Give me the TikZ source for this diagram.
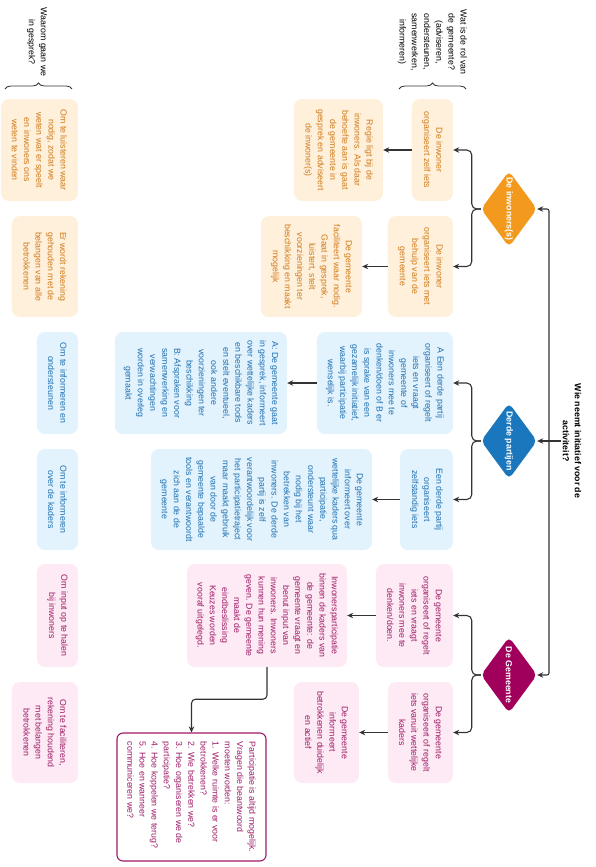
\documentclass[tikz,border=0pt]{standalone}
\usepackage{fontspec}
\setmainfont{Liberation Sans}
\usetikzlibrary{arrows.meta,shapes.geometric,decorations.pathreplacing}
\definecolor{ofill}{HTML}{FFF0DC}
\definecolor{otext}{HTML}{D07A17}
\definecolor{odia}{HTML}{F39A1E}
\definecolor{bfill}{HTML}{E2F3FE}
\definecolor{btext}{HTML}{1E6FB0}
\definecolor{bdia}{HTML}{1A77BD}
\definecolor{mfill}{HTML}{FDEAF5}
\definecolor{mtext}{HTML}{9E1B66}
\definecolor{mdia}{HTML}{A0005C}
\definecolor{lin}{HTML}{333333}
\newcommand{\fsz}{\fontsize{8.8}{12.2}\selectfont}
\begin{document}
\begin{tikzpicture}[
 box/.style={rounded corners=8pt, inner sep=2pt, align=center, font=\fsz},
 obox/.style={box, fill=ofill, text=otext},
 bbox/.style={box, fill=bfill, text=btext},
 mbox/.style={box, fill=mfill, text=mtext},
 dia/.style={diamond, rounded corners=5pt, inner sep=0pt, minimum width=76pt, minimum height=56pt},
 diatext/.style={text=white, font=\fsz\bfseries, inner sep=0pt},
 conn/.style={draw=lin, line width=1.1pt},
 arr/.style={conn, -{Stealth[length=6pt,width=5.5pt]}},
 hdr/.style={align=center, font=\fsz, text=black, inner sep=1pt},
 bracestyle/.style={draw=lin, line width=0.8pt, decorate, decoration={brace, amplitude=6pt}}
]
\begin{scope}[x=1pt, y=1pt, rotate=-90, transform shape]
\path[use as bounding box] (0,0) rectangle (867,-596);

% title and headers
\node[hdr, font=\fsz\bfseries] (title) at (441,-24) {Wie neemt initiatief voor de\\activiteit?};
\node[hdr] (h1) at (42,-163.5) {Wat is de rol van\\de gemeente?\\(adviseren,\\ondersteunen,\\samenwerken,\\informeren)};
\node[hdr] (h2) at (42,-559) {Waarom gaan we\\in gesprek?};
\draw[bracestyle] (89,-197) -- (89,-130);
\draw[bracestyle] (89,-591) -- (89,-524);

% diamonds
\node[dia, fill=odia] (d1) at (209,-87) {};
\node[diatext] at (d1) {De inwoners(s)};
\node[dia, fill=bdia] (d2) at (441,-87) {};
\node[diatext] at (d2) {Derde partijen};
\node[dia, fill=mdia] (d3) at (675,-87) {};
\node[diatext] at (d3) {De Gemeente};

% orange boxes
\node[obox, minimum width=102pt, minimum height=41pt] (b1) at (150,-163.5) {De inwoner\\organiseert zelf iets};
\node[obox, minimum width=102pt, minimum height=89pt] (b1p) at (150,-257.5) {Regie ligt bij de\\inwoners. Als daar\\behoefte aan is gaat\\de gemeente in\\gesprek en adviseert\\de inwoner(s)};
\node[obox, minimum width=102pt, minimum height=77pt] (b1q) at (150,-556.5) {Om te luisteren waar\\nodig, zodat we\\weten wat er speelt\\en inwoners ons\\weten te vinden};
\node[obox, minimum width=101pt, minimum height=65pt] (b2) at (266.5,-175.5) {De inwoner\\organiseert iets met\\behulp van de\\gemeente};
\node[obox, minimum width=101pt, minimum height=101pt] (b2p) at (266.5,-284.5) {De gemeente\\faciliteert waar nodig.\\Gaat in gesprek,\\luistert, stelt\\voorzieningen ter\\beschikking en maakt\\mogelijk};
\node[obox, minimum width=101pt, minimum height=66pt] (b2q) at (266.5,-551) {Er wordt rekening\\gehouden met de\\belangen van alle\\betrokkenen};

% blue boxes
\node[bbox, minimum width=102pt, minimum height=136pt] (c1) at (383,-211) {A Een derde partij\\organiseert of regelt\\iets en vraagt\\gemeente of\\inwoners mee te\\denken/doen of B er\\is sprake van een\\gezamelijk initiatief,\\waarbij participatie\\wenselijk is.};
\node[bbox, minimum width=102pt, minimum height=172pt] (c1p) at (383,-395) {A: De gemeente gaat\\in gesprek, informeert\\over wettelijke kaders\\en beschikbare tools\\en stelt eventueel,\\ook andere\\voorzieningen ter\\beschikking\\B: Afspraken voor\\samenwerking en\\verwachtingen\\worden in overleg\\gemaakt};
\node[bbox, minimum width=102pt, minimum height=41pt] (c1q) at (383,-538.5) {Om te informeren en\\ondersteunen};
\node[bbox, minimum width=101pt, minimum height=53pt] (c2) at (499.5,-169.5) {Een derde partij\\organiseert\\zelfstandig iets};
\node[bbox, minimum width=101pt, minimum height=221pt] (c2p) at (499.5,-334.5) {De gemeente\\informeert over\\wettelijke kaders qua\\participatie,\\ondersteunt waar\\nodig bij het\\betrekken van\\inwoners. De derde\\partij is zelf\\verantwoordelijk voor\\het participatietraject\\maar maakt gebruik\\van door de\\gemeente bepaalde\\tools en verantwoordt\\zich aan de de\\gemeente};
\node[bbox, minimum width=101pt, minimum height=41pt] (c2q) at (499.5,-538.5) {Om te informeren\\over de kaders};

% magenta boxes
\node[mbox, minimum width=103pt, minimum height=77pt] (m1) at (615.5,-181.5) {De gemeente\\organiseert of regelt\\iets en vraagt\\inwoners mee te\\denken/doen.};
\node[mbox, minimum width=103pt, minimum height=160pt] (m1p) at (615.5,-329) {Inwonersparticipatie\\binnen de kaders van\\de gemeente: de\\gemeente vraagt en\\benut input van\\inwoners. Inwoners\\kunnen hun mening\\geven. De gemeente\\maakt de\\eindbeslissing\\Keuzes worden\\vooraf uitgelegd.};
\node[mbox, minimum width=103pt, minimum height=41pt] (m1q) at (615.5,-538.5) {Om input op te halen\\bij inwoners};
\node[mbox, minimum width=101pt, minimum height=65pt] (m2) at (732.5,-175.5) {De gemeente\\organiseert of regelt\\iets vanuit wettelijke\\kaders};
\node[mbox, minimum width=101pt, minimum height=65pt] (m2p) at (732.5,-269.5) {De gemeente\\informeert\\betrokkenen duidelijk\\en actief};
\node[mbox, minimum width=101pt, minimum height=66pt] (m2q) at (732.5,-551) {Om te faciliteren,\\rekening houdend\\met belangen\\betrokkenen};
\node[box, draw=mtext, line width=1.1pt, fill=white, text=mtext, align=left, rounded corners=6pt, minimum width=128pt, minimum height=149pt] (p) at (797,-404.5) {Participatie is altijd mogelijk.\\Vragen die beantwoord\\moeten worden:\\1. Welke ruimte is er voor\\betrokkenen?\\2. Wie betrekken we?\\3. Hoe organiseren we de\\participatie?\\4. Hoe koppelen we terug?\\5. Hoe en wanneer\\communiceren we?};

% connectors
\coordinate (bus) at (441,-47);
\draw[conn] (title.south) -- (bus);
\draw[arr] (bus) -- (d2.north);
\draw[arr, rounded corners=2pt] (bus) -| (d1.north);
\draw[arr, rounded corners=2pt] (bus) -| (d3.north);

\draw[arr, rounded corners=5pt] (d1.south) -- ++(0,-9) -| (b1.north);
\draw[arr, rounded corners=5pt] (d1.south) -- ++(0,-9) -| (b2.north);
\draw[arr, rounded corners=5pt] (d2.south) -- ++(0,-9) -| (c1.north);
\draw[arr, rounded corners=5pt] (d2.south) -- ++(0,-9) -| (c2.north);
\draw[arr, rounded corners=5pt] (d3.south) -- ++(0,-9) -| (m1.north);
\draw[arr, rounded corners=5pt] (d3.south) -- ++(0,-9) -| (m2.north);

\draw[arr] (b1.south) -- (b1p.north);
\draw[arr] (b2.south) -- (b2p.north);
\draw[arr] (c1.south) -- (c1p.north);
\draw[arr] (c2.south) -- (c2p.north);
\draw[arr] (m1.south) -- (m1p.north);
\draw[arr] (m2.south) -- (m2p.north);

\draw[arr, rounded corners=4pt] (m1p.east) -- ++(32,0) |- (p.west);
\end{scope}
\end{tikzpicture}
\end{document}
